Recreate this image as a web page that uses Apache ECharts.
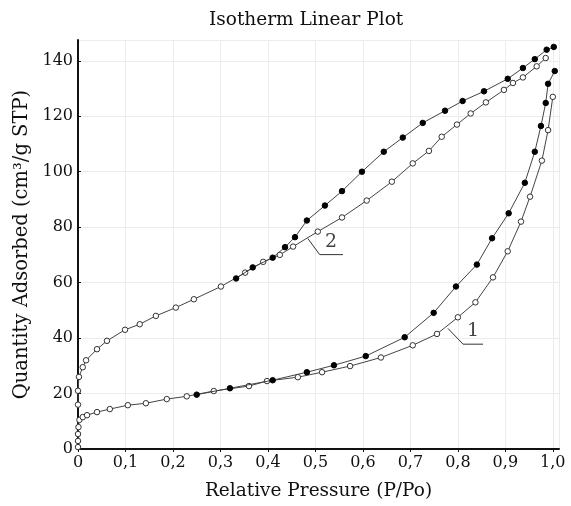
<!DOCTYPE html>
<html>
<head>
  <meta charset="utf-8">
  <title>Isotherm Linear Plot</title>
  <script src="https://cdn.jsdelivr.net/npm/echarts@6/dist/echarts.min.js"></script>
  <style>
    html, body { margin: 0; padding: 0; background: #fff; }
    #graph { width: 571px; height: 506px; }
  </style>
</head>
<body>
  <div id="graph"></div>

  <script>
    // sample 1: adsorption (open) and desorption (filled)
    var s1Ads = [[0, 0.7], [0, 2.9], [0, 5.4], [0.001, 7.9], [0.003, 10.5], [0.01, 11.5], [0.019, 12.2],
      [0.04, 13.3], [0.067, 14.4], [0.105, 15.8], [0.143, 16.5], [0.187, 18], [0.229, 19], [0.286, 20.9],
      [0.36, 22.7], [0.398, 24.5], [0.463, 25.9], [0.514, 27.7], [0.573, 29.9], [0.638, 33], [0.705, 37.4],
      [0.756, 41.5], [0.8, 47.5], [0.837, 52.9], [0.874, 61.9], [0.905, 71.3], [0.933, 82], [0.952, 91],
      [0.977, 104], [0.99, 115], [1.0, 127]];
    var s1Des = [[1.004, 136.3], [0.99, 131.7], [0.985, 124.8], [0.975, 116.5], [0.962, 107.2], [0.941, 96],
      [0.907, 85], [0.872, 76], [0.84, 66.5], [0.796, 58.6], [0.749, 49.1], [0.688, 40.3], [0.606, 33.5],
      [0.539, 30.2], [0.482, 27.7], [0.41, 24.8], [0.32, 21.9], [0.25, 19.6]];

    // sample 2
    var s2Ads = [[0, 16], [0, 21], [0.002, 26], [0.01, 29.5], [0.017, 32], [0.04, 36], [0.061, 39],
      [0.099, 43], [0.13, 45], [0.164, 48], [0.206, 51], [0.244, 54], [0.301, 58.6], [0.352, 63.6],
      [0.39, 67.5], [0.425, 70], [0.453, 73], [0.505, 78.4], [0.556, 83.5], [0.608, 89.6], [0.661, 96.4],
      [0.705, 103], [0.739, 107.5], [0.766, 112.6], [0.798, 117], [0.827, 121], [0.859, 125], [0.897, 129.5],
      [0.916, 132], [0.937, 134], [0.966, 138], [0.985, 141]];
    var s2Des = [[1.002, 145], [0.987, 144], [0.962, 140.6], [0.937, 137.4], [0.905, 133.5], [0.855, 129],
      [0.81, 125.5], [0.773, 122], [0.726, 117.6], [0.684, 112.3], [0.644, 107.2], [0.598, 100], [0.556, 93],
      [0.52, 87.8], [0.482, 82.4], [0.457, 76.4], [0.436, 72.8], [0.41, 69], [0.368, 65.5], [0.333, 61.5]];

    // curve labels with leader lines
    var lead1 = [[0.779, 43.5], [0.811, 37.8], [0.853, 37.8]];
    var lead2 = [[0.484, 75.9], [0.509, 70.1], [0.558, 70.1]];
    var tags = [{ value: [0.832, 42.6], name: '1' }, { value: [0.533, 74.8], name: '2' }];

    var serif = '"DejaVu Serif", "Liberation Serif", serif';

    function fmtX(v) {
      if (v === 0) return '0';
      return v.toFixed(1).replace('.', ',');
    }

    function curve(data, filled) {
      return {
        type: 'line',
        data: data,
        symbol: 'circle',
        symbolSize: 5.5,
        showAllSymbol: true,
        z: filled ? 4 : 3,
        lineStyle: { color: '#444', width: 1 },
        itemStyle: filled
          ? { color: '#000', borderColor: '#000', borderWidth: 1 }
          : { color: '#fff', borderColor: '#333', borderWidth: 1 },
        animation: false
      };
    }

    function leader(data) {
      return {
        type: 'line',
        data: data,
        symbol: 'none',
        lineStyle: { color: '#333', width: 1 },
        z: 2,
        animation: false
      };
    }

    var myChart = echarts.init(document.getElementById('graph'));

    var option = {
      backgroundColor: '#fff',
      title: {
        text: 'Isotherm Linear Plot',
        left: 204,
        top: 6,
        textStyle: { fontFamily: serif, fontSize: 18.5, fontWeight: 'normal', color: '#111' }
      },
      grid: { left: 78, right: 12, top: 40, bottom: 56 },
      xAxis: {
        type: 'value',
        min: 0,
        max: 1.013,
        interval: 0.1,
        name: 'Relative Pressure (P/Po)',
        nameLocation: 'middle',
        nameGap: 33,
        nameTextStyle: { fontFamily: serif, fontSize: 18.5, color: '#111' },
        axisLine: { lineStyle: { color: '#111', width: 2 } },
        axisTick: { show: true, length: 3, lineStyle: { color: '#111' } },
        axisLabel: {
          formatter: fmtX,
          showMaxLabel: false,
          margin: 6,
          fontFamily: serif,
          fontSize: 16,
          color: '#111'
        },
        splitLine: { show: true, lineStyle: { color: '#ececec', width: 1 } }
      },
      yAxis: {
        type: 'value',
        min: 0,
        max: 147.5,
        interval: 20,
        name: 'Quantity Adsorbed (cm³/g STP)',
        nameLocation: 'middle',
        nameGap: 44,
        nameTextStyle: { fontFamily: serif, fontSize: 19.5, color: '#111' },
        axisLine: { show: true, lineStyle: { color: '#111', width: 2 } },
        axisTick: { show: true, inside: true, length: 3, lineStyle: { color: '#111' } },
        axisLabel: {
          showMaxLabel: false,
          margin: 5,
          fontFamily: serif,
          fontSize: 16,
          color: '#111'
        },
        splitLine: { show: true, lineStyle: { color: '#ececec', width: 1 } }
      },
      series: [
        curve(s1Ads, false),
        curve(s1Des, true),
        curve(s2Ads, false),
        curve(s2Des, true),
        leader(lead1),
        leader(lead2),
        {
          type: 'scatter',
          data: tags,
          symbolSize: 0,
          label: {
            show: true,
            position: 'inside',
            formatter: '{b}',
            fontFamily: serif,
            fontSize: 19,
            color: '#111'
          },
          animation: false
        }
      ]
    };

    myChart.setOption(option);
  </script>
</body>
</html>
